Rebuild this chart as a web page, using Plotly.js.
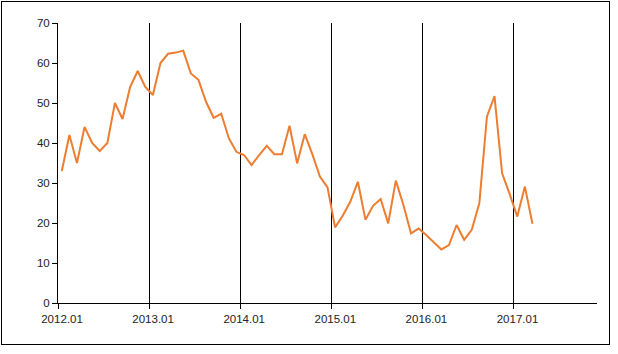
<!DOCTYPE html>
<html>
<head>
<meta charset="utf-8">
<script src="https://cdn.plot.ly/plotly-3.0.1.min.js"></script>
<style>
  html, body { margin: 0; padding: 0; background: #fff; }
  #wrap { position: relative; width: 618px; height: 354px; }
  #chart { width: 618px; height: 354px; }
  #frame { position: absolute; left: 1px; top: 1px; width: 607px; height: 342px; border: 1px solid #000; pointer-events: none; }
</style>
</head>
<body>
<div id="wrap"><div id="chart"></div><div id="frame"></div></div>
<script>
// Monthly values, 2012.01 onward
const values = [
  33, 42, 35, 44, 40, 38, 40, 50, 46, 54, 58, 54,
  52, 60, 62.3, 62.6, 63.1, 57.4, 55.8, 50.3, 46.3, 47.3, 41.2, 37.8,
  37, 34.5, 37, 39.3, 37.2, 37.2, 44.3, 34.9, 42.2, 37.2, 31.6, 28.9,
  18.9, 21.8, 25.3, 30.3, 20.8, 24.3, 26, 19.9, 30.6, 24.5, 17.4, 18.6,
  17, 15.3, 13.4, 14.5, 19.5, 15.8, 18.3, 24.9, 46.6, 51.7, 32.4, 27.2,
  21.6, 29.1, 19.8
];
const yearLabels = ['2012.01', '2013.01', '2014.01', '2015.01', '2016.01', '2017.01'];
const monthsPerLabel = 12;
const totalCategories = 71;

const xIdx = values.map((_, i) => i);
const tickvals = yearLabels.map((_, k) => k * monthsPerLabel - 0.5);

const trace = {
  x: xIdx,
  y: values,
  type: 'scatter',
  mode: 'lines',
  line: { color: '#ED7D31', width: 2 },
  hoverinfo: 'skip'
};

const font = { family: 'Liberation Sans, Arial, sans-serif', size: 11.5, color: '#222' };

const layout = {
  width: 618,
  height: 354,
  margin: { l: 58, r: 21, t: 23, b: 51 },
  paper_bgcolor: '#fff',
  plot_bgcolor: '#fff',
  showlegend: false,
  font: font,
  xaxis: {
    range: [-0.5, totalCategories - 0.5],
    tickmode: 'array',
    tickvals: tickvals,
    ticktext: yearLabels,
    ticklabelshift: 4,
    ticks: 'outside',
    ticklen: 5,
    tickwidth: 1,
    tickcolor: '#000',
    showline: true,
    linecolor: '#000',
    linewidth: 1,
    showgrid: true,
    gridcolor: '#000',
    gridwidth: 1,
    zeroline: false,
    tickfont: font,
    fixedrange: true
  },
  yaxis: {
    range: [0, 70],
    tickmode: 'linear',
    tick0: 0,
    dtick: 10,
    ticks: 'outside',
    ticklen: 5,
    tickwidth: 1,
    tickcolor: '#000',
    showline: true,
    linecolor: '#000',
    linewidth: 1,
    showgrid: false,
    zeroline: false,
    tickfont: font,
    fixedrange: true
  }
};

Plotly.newPlot('chart', [trace], layout, { displayModeBar: false, staticPlot: true });
</script>
</body>
</html>
